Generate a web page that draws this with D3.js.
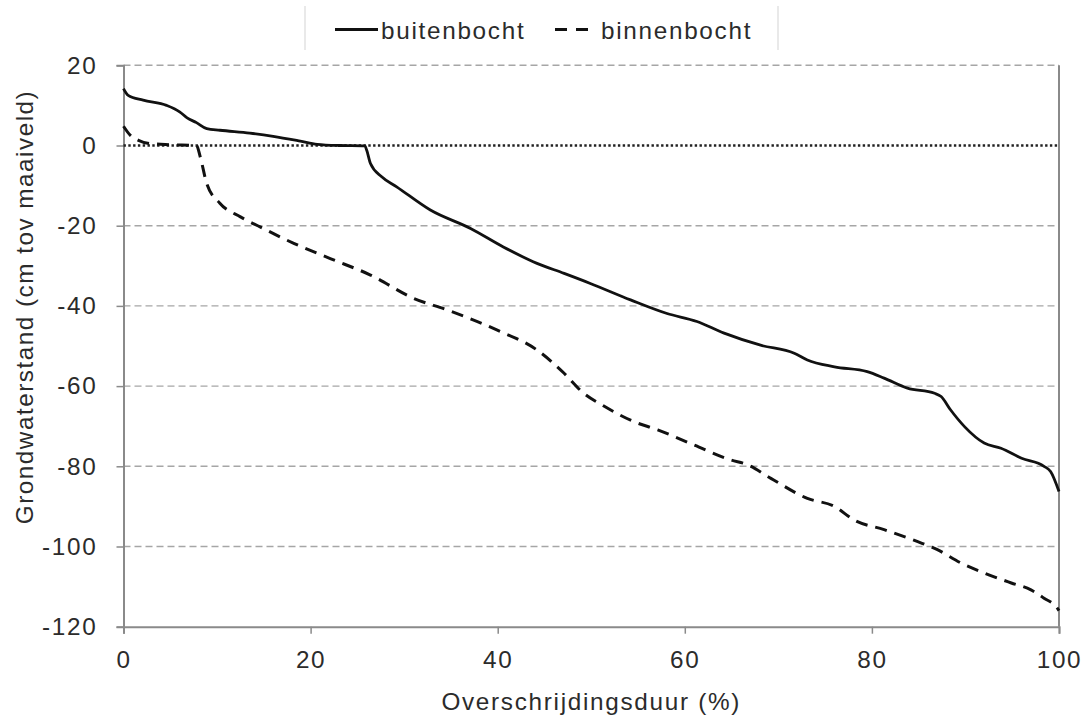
<!DOCTYPE html>
<html>
<head>
<meta charset="utf-8">
<script src="https://cdn.jsdelivr.net/npm/d3@7"></script>
<style>
  html, body { margin: 0; padding: 0; background: #fff; }
  svg { display: block; }
  text { font-family: "Liberation Sans", Arial, sans-serif; fill: #2b2b2b; }
</style>
</head>
<body>
<svg id="chart" width="1086" height="719"></svg>
<script>
// Duration curves of groundwater level (cm relative to ground surface)
const buitenX = [0, 0.5, 2.1, 4.6, 6.0, 6.8, 7.8, 8.9, 10.3, 13.5, 16.0, 18.9, 20.7, 23.0, 25.8, 26.0, 26.4, 27.6, 29.2, 32.8, 37.1, 40.6, 44.2, 47.1, 49.9, 54.2, 58.1, 61.3, 64.2, 68.1, 71.7, 73.1, 76.0, 79.5, 81.3, 83.8, 86.7, 87.4, 88.4, 89.9, 92.0, 93.8, 96.0, 98.4, 99.1, 100];
const buitenY = [14.2, 12.5, 11.3, 10.0, 8.4, 6.9, 5.7, 4.2, 3.8, 3.1, 2.3, 1.1, 0.3, 0.0, -0.1, -1.2, -4.5, -7.8, -10.3, -16.1, -20.7, -25.3, -29.4, -31.9, -34.4, -38.5, -41.9, -43.9, -46.8, -49.8, -51.8, -53.5, -55.2, -56.4, -58.0, -60.5, -61.8, -62.6, -65.9, -70.1, -74.2, -75.5, -78.0, -80.0, -81.3, -86.3];

const binnenX = [0, 0.7, 1.6, 2.8, 5.0, 7.8, 8.2, 8.9, 10.3, 12.5, 14.6, 18.2, 22.1, 26.4, 31.0, 34.6, 39.9, 44.2, 47.1, 49.2, 51.3, 54.6, 57.1, 61.0, 64.9, 66.7, 69.2, 73.1, 76.0, 78.1, 81.3, 84.9, 87.0, 89.5, 92.0, 94.9, 97.0, 98.4, 99.8, 100];
const binnenY = [4.8, 2.6, 1.3, 0.5, 0.2, 0.0, -2.8, -9.5, -14.4, -17.8, -20.3, -24.4, -28.2, -32.3, -38.1, -41.0, -46.0, -51.0, -56.8, -61.8, -64.9, -68.9, -70.9, -74.7, -78.4, -79.6, -83.0, -88.0, -90.0, -93.4, -95.8, -98.8, -100.8, -104.1, -106.6, -109.1, -110.8, -112.9, -115.3, -116.0];

const seriesNames = ["buitenbocht", "binnenbocht"];
const xTicks = [0, 20, 40, 60, 80, 100];
const yTicks = [20, 0, -20, -40, -60, -80, -100, -120];
const xTitle = "Overschrijdingsduur (%)";
const yTitle = "Grondwaterstand (cm tov maaiveld)";

const svg = d3.select("#chart");
const plotLeft = 123.5, plotRight = 1059, plotTop = 65.3, plotBottom = 626.7;

const x = d3.scaleLinear().domain([0, 100]).range([plotLeft, plotRight]);
const y = d3.scaleLinear().domain([-120, 20]).range([plotBottom, plotTop]);

const axisColor = "#8a8a8a";
const fontSize = 24.3;
const spacing = "1.7px";
const plainNumber = d => String(d);   // ASCII hyphen as minus sign

// horizontal grid lines (dashed); the zero line is drawn separately as dotted
svg.append("g")
  .selectAll("line")
  .data(yTicks.filter(v => v !== 0 && v !== -120))
  .join("line")
  .attr("x1", plotLeft).attr("x2", plotRight)
  .attr("y1", d => y(d)).attr("y2", d => y(d))
  .attr("stroke", "#a6a6a6")
  .attr("stroke-width", 1.4)
  .attr("stroke-dasharray", "7,4");

// right border of the plot area
svg.append("line")
  .attr("x1", plotRight).attr("x2", plotRight)
  .attr("y1", plotTop).attr("y2", plotBottom)
  .attr("stroke", axisColor).attr("stroke-width", 2);

function styleTicks(g) {
  g.select(".domain").attr("stroke", axisColor).attr("stroke-width", 2);
  g.selectAll(".tick line").attr("stroke", axisColor).attr("stroke-width", 1.5);
  g.selectAll(".tick text")
    .style("font-size", fontSize + "px")
    .style("letter-spacing", spacing)
    .style("font-family", '"Liberation Sans", Arial, sans-serif')
    .attr("fill", "#2b2b2b");
}

// y axis
svg.append("g")
  .attr("transform", `translate(${plotLeft},0)`)
  .call(d3.axisLeft(y).tickValues(yTicks).tickSize(7).tickPadding(19).tickFormat(plainNumber))
  .call(styleTicks);

// x axis
svg.append("g")
  .attr("transform", `translate(0,${plotBottom})`)
  .call(d3.axisBottom(x).tickValues(xTicks).tickSize(7).tickPadding(17).tickFormat(plainNumber))
  .call(styleTicks);

// dotted zero line
svg.append("line")
  .attr("x1", plotLeft).attr("x2", plotRight)
  .attr("y1", y(0)).attr("y2", y(0))
  .attr("stroke", "#222")
  .attr("stroke-width", 2.6)
  .attr("stroke-dasharray", "2.4,2.4");

// series lines
const line = d3.line()
  .x(d => x(d[0]))
  .y(d => y(d[1]))
  .curve(d3.curveMonotoneX);

const buiten = buitenX.map((v, i) => [v, buitenY[i]]);
const binnen = binnenX.map((v, i) => [v, binnenY[i]]);

svg.append("path")
  .datum(binnen)
  .attr("d", line)
  .attr("fill", "none")
  .attr("stroke", "#111")
  .attr("stroke-width", 3)
  .attr("stroke-dasharray", "12,8");

svg.append("path")
  .datum(buiten)
  .attr("d", line)
  .attr("fill", "none")
  .attr("stroke", "#111")
  .attr("stroke-width", 2.8)
  .attr("stroke-linejoin", "round");

// axis titles
svg.append("text")
  .attr("x", (plotLeft + plotRight) / 2)
  .attr("y", 710)
  .attr("text-anchor", "middle")
  .style("font-size", fontSize + "px")
  .style("letter-spacing", spacing)
  .text(xTitle);

svg.append("text")
  .attr("transform", `translate(33,307) rotate(-90)`)
  .attr("text-anchor", "middle")
  .style("font-size", fontSize + "px")
  .style("letter-spacing", "1.5px")
  .text(yTitle);

// legend
const legend = svg.append("g");
legend.selectAll("line.frame")
  .data([305, 778])
  .join("line")
  .attr("class", "frame")
  .attr("x1", d => d).attr("x2", d => d)
  .attr("y1", 6).attr("y2", 50)
  .attr("stroke", "#e2e2e2").attr("stroke-width", 1.5);

const legendItems = [
  { name: seriesNames[0], x0: 335, x1: 378, tx: 381, dash: null },
  { name: seriesNames[1], x0: 555, x1: 594, tx: 601, dash: "12,9" }
];
legendItems.forEach(it => {
  legend.append("line")
    .attr("x1", it.x0).attr("x2", it.x1)
    .attr("y1", 29.5).attr("y2", 29.5)
    .attr("stroke", "#111")
    .attr("stroke-width", 3)
    .attr("stroke-dasharray", it.dash);
  legend.append("text")
    .attr("x", it.tx).attr("y", 38.5)
    .style("font-size", fontSize + "px")
    .style("letter-spacing", spacing)
    .text(it.name);
});
</script>
</body>
</html>
